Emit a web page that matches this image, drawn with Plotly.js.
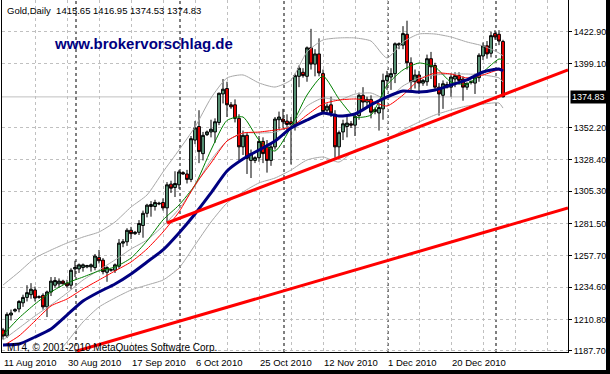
<!DOCTYPE html>
<html><head><meta charset="utf-8">
<script src="https://cdn.plot.ly/plotly-3.0.1.min.js"></script>
<style>
html,body{margin:0;padding:0;background:#fff;width:610px;height:374px;overflow:hidden}
#chart{position:absolute;left:0;top:0;width:610px;height:374px;background:#fff}
#frameR{position:absolute;left:606px;top:0;width:4px;height:374px;background:#000;z-index:5}
#frameB{position:absolute;left:0;top:370px;width:610px;height:4px;background:#000;z-index:5}
</style></head><body><div id="chart"></div><div id="frameR"></div><div id="frameB"></div>
<script>
// Daily bars, bar 0 = 11 Aug 2010 ... bar 125 = 4 Jan 2011 (Sunday bars included)
const open  = [1203,1198.5,1214,1217,1218.5,1223,1227,1229,1232.5,1227,1228.5,1220,1231,1236,1237,1239,1237.5,1236,1248,1248,1249,1249.5,1249.5,1249,1256.5,1254.5,1245.5,1247,1247,1250,1267,1268,1276.5,1274,1275,1280,1289,1294,1294,1296.5,1297,1293,1310.5,1308,1310,1319,1318,1314,1343,1353,1333,1347,1349,1349,1356,1377,1381,1369,1369,1359,1338,1346.5,1328,1328,1330,1342,1338,1328,1338,1358,1358.5,1357,1356.5,1354.5,1390,1393,1390,1411,1399,1406.5,1392,1365,1369,1362,1338,1349,1353,1355,1354,1361,1376,1371,1373,1364,1363,1366,1387,1389.5,1392,1413,1413,1421,1400,1386,1391,1385,1386,1403,1398,1382,1376,1384,1382,1388,1390.5,1388,1382,1385.5,1385,1389,1405,1412.5,1407,1421.5,1421,1415.65];
const high  = [1204.5,1216,1218,1219,1225,1229,1236,1237.5,1235,1228.5,1230,1232,1242,1242,1241,1240,1240,1248.5,1254,1252,1252,1251,1252,1259,1262,1256,1250,1248,1252,1270,1270,1278,1279,1276,1284,1291,1296,1298,1299,1297.5,1300,1312,1313,1320,1321,1320,1321,1346,1357,1365,1349,1350,1358,1359,1378,1388,1386,1371,1373,1362,1350,1349,1336,1331,1346,1345,1343,1341,1360,1364,1366,1362,1360,1392,1398,1396,1412,1425,1410,1418,1395,1370,1375,1365,1350,1358,1360,1357,1363,1378,1382,1375,1376,1367,1370,1392,1394,1396,1415,1415,1427,1431,1404,1395,1394,1388,1406,1408,1400,1385,1387,1386,1392,1393,1393,1390,1385,1387,1392,1407,1415,1416,1423,1424,1424,1416.95];
const low   = [1196,1197,1210,1216,1216,1220,1224,1226,1224,1226,1218,1212.5,1228,1234,1234,1236.5,1234,1233,1242,1245,1246,1248.5,1246,1247,1252,1244,1238.5,1246,1245,1248,1264,1265,1270,1273,1273,1271,1286,1286.5,1291,1295,1291,1282,1304,1301,1307,1317.5,1311,1312,1340,1326,1328,1346,1345,1341,1354,1370,1360,1366,1356,1328,1332,1318,1315,1326,1327,1326,1319,1324,1336,1351,1352,1350,1325,1350,1382,1389,1386,1395,1390,1390,1362,1363,1360,1330,1330,1343,1345,1352,1346,1358,1366,1368,1359,1362,1350,1358,1380,1380,1385,1410,1410,1395,1380,1381,1377,1383,1383,1388,1380,1361,1366,1381,1375,1382,1384,1372,1380,1384,1377,1386,1402,1403,1404,1417,1413,1374.53];
const close = [1198.5,1214.5,1215.5,1218,1224,1227,1230.5,1233,1226.5,1227.5,1220,1231,1239,1239.5,1239,1237,1235.5,1247,1249,1251,1251,1250.5,1251,1257.5,1254,1246,1249,1247.5,1251,1267,1268,1276.5,1274,1275,1281.5,1289,1295,1295.5,1297,1296,1293,1310,1307.5,1311,1319.5,1318,1314,1344,1352,1334.5,1346.5,1349,1351,1356.5,1377.5,1380.5,1369,1367.5,1359,1338,1346.5,1329.5,1333,1330,1342,1333,1328,1338,1358.5,1360,1356.5,1354.5,1354.5,1390.5,1396,1390.5,1411,1399,1406.5,1392.5,1364,1368,1363,1338,1348.5,1355,1355.5,1354,1360.5,1376,1371,1373,1363.5,1365.5,1367,1387,1390.5,1392,1414,1414,1421.5,1400,1386,1391,1385,1387,1403,1397,1382,1377,1384.5,1382,1389.5,1390.5,1387,1382,1385,1386,1389.5,1405.5,1412.5,1406.5,1420,1419,1416,1374.83];

// indicator lines read at these bars
const maBars   = [0,4,8,12,16,20,24,28,32,36,40,44,48,52,56,60,64,68,72,76,80,84,88,92,96,100,104,108,112,116,120,124,125];
const maGreen  = [1199.3,1211.8,1222.1,1231.0,1237.6,1242.0,1246.5,1249.4,1256.0,1268.6,1284.1,1295.1,1309.9,1335.7,1357.5,1360.0,1343.0,1334.9,1352.6,1376.2,1390.2,1373.3,1360.0,1361.5,1383.6,1394.7,1399.8,1396.9,1385.8,1384.3,1393.2,1402.8,1402.0];
const maRed    = [1191.2,1198.6,1209.6,1220.7,1225.8,1233.2,1239.8,1246.5,1253.1,1262.7,1275.2,1290.0,1309.9,1326.1,1342.3,1348.2,1348.9,1350.4,1352.6,1361.5,1369.6,1372.5,1373.3,1371.8,1368.1,1376.2,1387.3,1392.4,1391.7,1388.8,1391.0,1394.7,1393.2];
const maNavy   = [1191.9,1192.6,1197.8,1203.7,1214.0,1224.3,1231.0,1236.9,1244.3,1253.1,1262.0,1274.5,1288.5,1304.0,1320.2,1329.0,1335.7,1342.3,1351.9,1357.8,1363.0,1360.7,1362.2,1368.9,1374.8,1379.2,1378.4,1379.9,1383.6,1387.3,1393.2,1395.4,1393.9];
const bbUpper  = [1236.1,1245.7,1256.0,1261.9,1267.1,1271.5,1275.2,1282.6,1293.6,1302.5,1319.5,1335.7,1352.6,1374.0,1388.8,1391.0,1385.1,1382.1,1387.3,1407.9,1416.8,1418.3,1418.3,1416.0,1403.5,1415.3,1421.2,1421.2,1419.0,1415.3,1412.4,1407.2,1405.0];
const bbMiddle = [1195.6,1204.4,1213.3,1221.4,1230.2,1239.8,1247.2,1254.6,1262.7,1269.3,1279.6,1292.2,1309.1,1328.3,1342.3,1348.2,1348.2,1348.9,1354.1,1368.1,1374.0,1372.5,1376.9,1377.7,1373.3,1382.9,1388.8,1391.0,1391.7,1391.7,1391.0,1388.8,1385.8];
const bbLower  = [1155.0,1162.4,1169.8,1180.8,1194.1,1208.9,1219.9,1226.6,1232.4,1236.1,1239.8,1248.7,1265.6,1282.6,1296.6,1304.7,1311.4,1315.0,1320.9,1328.3,1330.5,1326.8,1335.7,1339.4,1343.0,1350.4,1356.3,1361.5,1365.2,1368.1,1369.6,1370.3,1366.6];

// trend lines (bar index, price)
const trendUpperBars = [41,141.25],  trendUpperPrices = [1281.85,1394.66];
const trendLowerBars = [18.5,141.25], trendLowerPrices = [1187.5,1292.9];

const dateLabels    = ['11 Aug 2010','30 Aug 2010','17 Sep 2010','6 Oct 2010','25 Oct 2010','12 Nov 2010','1 Dec 2010','20 Dec 2010'];
const dateLabelBars = [0,16,32,48,64,80,96,112];
const monthSeparatorBars = [18,44,70,96,123];
const priceTicks = [1422.90,1399.10,1352.20,1328.40,1305.30,1281.50,1257.70,1234.60,1210.80,1187.70];
const lastPrice = 1374.83;
const headerText = 'Gold,Daily  1415.65 1416.95 1374.53 1374.83';
const siteText = 'www.brokervorschlag.de';
const copyrightText = 'MT4, © 2001-2010 MetaQuotes Software Corp.';

const FONT = 'Liberation Sans, Arial, sans-serif';
const barIdx = close.map((_, i) => i);
const gridBars = []; for (let k = 0; k <= 136; k += 8) gridBars.push(k);
const DASH = '3px,3px';

function line(y, color, width) {
  return {type:'scatter', mode:'lines', x:maBars, y:y, line:{color:color, width:width, shape:'spline', smoothing:0.6}, hoverinfo:'skip', showlegend:false};
}

const traces = [
  {type:'candlestick', x:barIdx, open:open, high:high, low:low, close:close,
   increasing:{line:{color:'#000', width:1}, fillcolor:'#5f9f7f'},
   decreasing:{line:{color:'#000', width:1}, fillcolor:'#ff0000'},
   whiskerwidth:0, hoverinfo:'skip', showlegend:false},
  line(bbUpper, '#a8a8a8', 1),
  line(bbMiddle, '#a8a8a8', 1),
  line(bbLower, '#a8a8a8', 1),
  line(maGreen, '#008000', 1),
  line(maRed, '#ff0000', 1),
  line(maNavy, '#000080', 3),
  {type:'scatter', mode:'lines', x:trendUpperBars, y:trendUpperPrices, line:{color:'#ff0000', width:3}, hoverinfo:'skip', showlegend:false},
  {type:'scatter', mode:'lines', x:trendLowerBars, y:trendLowerPrices, line:{color:'#ff0000', width:3}, hoverinfo:'skip', showlegend:false}
];

const shapes = [
  {type:'line', xref:'paper', x0:0, x1:1, yref:'y', y0:lastPrice, y1:lastPrice, line:{color:'#c0c0c0', width:1}, layer:'below'}
].concat(monthSeparatorBars.map(k => ({type:'line', xref:'x', x0:k+0.25, x1:k+0.25, yref:'paper', y0:0, y1:1, line:{color:'#000', width:1, dash:DASH}, layer:'below'})));

const annotations = [
  {xref:'paper', yref:'paper', x:0, y:1, xanchor:'left', yanchor:'middle', xshift:3, yshift:-10.5, text:headerText, showarrow:false, font:{family:FONT, size:9.5, color:'#000'}},
  {xref:'paper', yref:'paper', x:0, y:1, xanchor:'left', yanchor:'middle', xshift:50, yshift:-43, text:'<b>'+siteText+'</b>', showarrow:false, font:{family:FONT, size:15, color:'#000080'}},
  {xref:'paper', yref:'paper', x:0, y:0, xanchor:'left', yanchor:'middle', xshift:3, yshift:5, text:copyrightText, showarrow:false, font:{family:FONT, size:10, color:'#000'}},
  {xref:'paper', yref:'y', x:1, y:lastPrice, xanchor:'left', yanchor:'middle', xshift:2, text:lastPrice.toFixed(2), showarrow:false, bgcolor:'#000', borderpad:1, font:{family:FONT, size:9, color:'#fff'}}
].concat(dateLabels.map((t, i) => ({xref:'x', yref:'paper', x:dateLabelBars[i], y:0, xanchor:'left', yanchor:'middle', xshift:-1, yshift:-10, text:t, showarrow:false, font:{family:FONT, size:9.5, color:'#000'}})));

const layout = {
  width:610, height:374,
  margin:{l:2, r:42, t:0, b:22, pad:0},
  paper_bgcolor:'#fff', plot_bgcolor:'#fff',
  showlegend:false,
  boxgap:0.3, boxgroupgap:0,
  xaxis:{range:[-0.25,141.25], tickmode:'array', tickvals:gridBars, showticklabels:false, ticks:'',
         showgrid:true, gridcolor:'#c0c0c0', griddash:DASH, gridwidth:1,
         showline:true, linecolor:'#000', linewidth:1, zeroline:false, rangeslider:{visible:false}, fixedrange:true},
  yaxis:{range:[1186.74,1446.27], side:'right', tickmode:'array', tickvals:priceTicks, ticktext:priceTicks.map(v => v.toFixed(2)),
         ticks:'outside', ticklen:3, tickcolor:'#000', tickfont:{family:FONT, size:9, color:'#000'},
         showgrid:true, gridcolor:'#c0c0c0', griddash:DASH, gridwidth:1,
         showline:true, linecolor:'#000', linewidth:1, mirror:true, zeroline:false, fixedrange:true},
  shapes:shapes, annotations:annotations
};

Plotly.newPlot('chart', traces, layout, {staticPlot:true, displayModeBar:false});
</script></body></html>
